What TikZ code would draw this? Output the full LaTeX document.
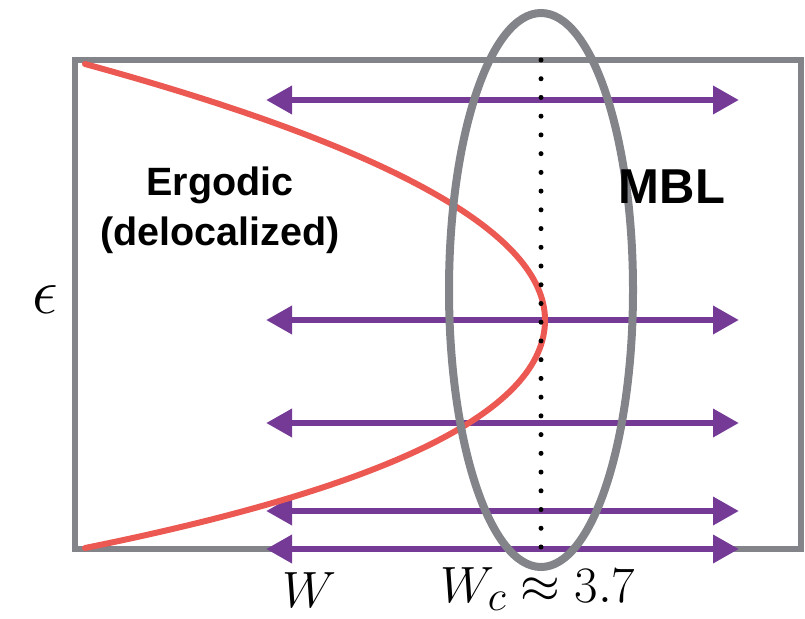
\documentclass[tikz,border=0pt]{standalone}
\usepackage{fontspec}
\newfontfamily\hel{Liberation Sans}
\usetikzlibrary{arrows.meta}
\definecolor{framegray}{RGB}{130,132,137}
\definecolor{curvered}{RGB}{236,88,82}
\definecolor{arrowpurple}{RGB}{116,58,150}
\tikzset{
  framebox/.style={draw=framegray, line width=6pt},
  phaseline/.style={draw=curvered, line width=6pt, line cap=round},
  wline/.style={draw=arrowpurple, line width=6.5pt,
    {Triangle[length=26pt,width=27pt]}-{Triangle[length=26pt,width=27pt]}},
  critring/.style={draw=framegray, line width=8pt},
  critdots/.style={draw=black, line width=5pt, line cap=round, dash pattern=on 0pt off 18.73pt},
  labeltext/.style={font=\hel\bfseries, text=black, inner sep=0pt, align=center},
  mathlabel/.style={text=black, inner sep=0pt, font=\Huge}
}
\begin{document}
\begin{tikzpicture}[x=1pt,y=-1pt]
\useasboundingbox (0,0) rectangle (805,618);
% frame
\coordinate (tl) at (75,60);
\coordinate (br) at (801,549);
\draw[framebox] (tl) rectangle (br);
% purple arrows
\foreach \i/\yy in {1/100,2/320,3/423,4/511,5/549}{
  \coordinate (l\i) at (266,\yy);
  \coordinate (r\i) at (739,\yy);
  \draw[wline] (l\i) -- (r\i);
}
% red curve
\coordinate (ctop) at (85,64);
\coordinate (cvert) at (545,320);
\coordinate (cbot) at (85,548);
\draw[phaseline] (ctop) .. controls (392,148) and (545,234) .. (cvert)
                        .. controls (545,410) and (392,486) .. (cbot);
% ellipse
\coordinate (ec) at (541,290);
\draw[critring] (ec) ellipse [x radius=92pt, y radius=277pt];
% dotted line
\coordinate (dtop) at (541,60);
\coordinate (dbot) at (541,547);
\draw[critdots] (dtop) -- (dbot);
% labels
\node[labeltext, font=\hel\bfseries\fontsize{39.5}{50}\selectfont] (erg) at (220,210) {Ergodic\\(delocalized)};
\node[labeltext, font=\hel\bfseries\fontsize{49}{55}\selectfont] (mbl) at (672,187) {MBL};
\node[mathlabel, scale=2.6] (eps) at (45,300) {$\epsilon$};
\node[mathlabel, scale=2.05] (wlab) at (310,590) {$W$};
\node[mathlabel, scale=2.05] (wc) at (538,589) {$W_c\approx 3.7$};
\end{tikzpicture}
\end{document}
